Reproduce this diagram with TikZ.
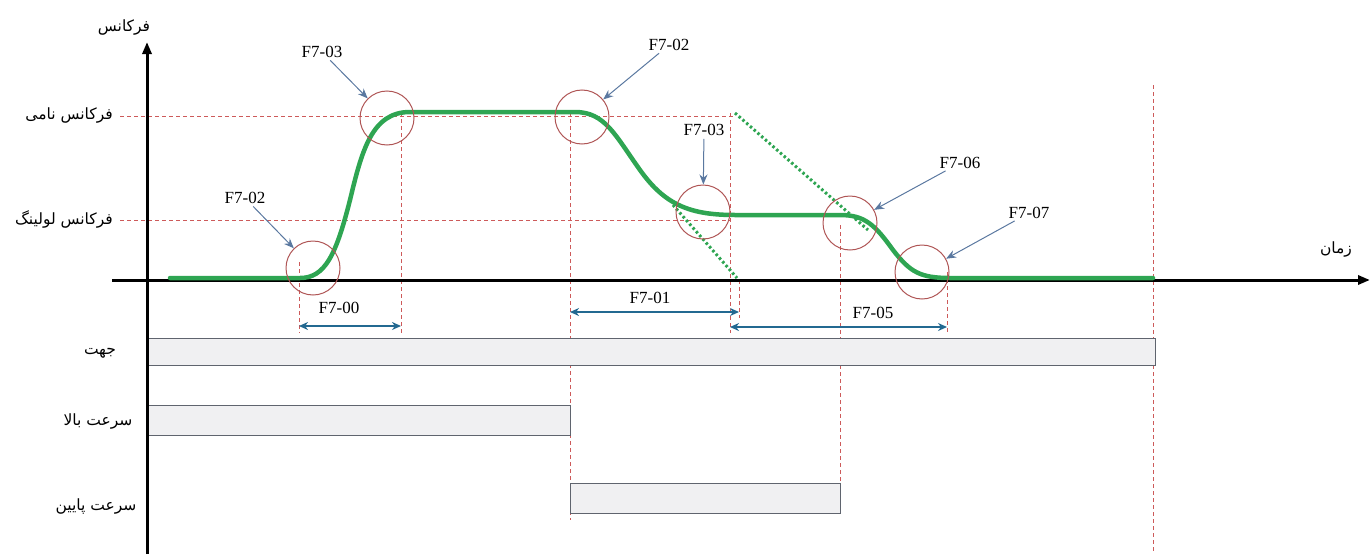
\documentclass[tikz,border=0pt]{standalone}
\usepackage{fontspec}
\setmainfont{Liberation Serif}
\newfontfamily\fa[Script=Arabic]{DejaVu Sans}
\TeXXeTstate=1
\usetikzlibrary{arrows.meta}
\definecolor{curvegreen}{RGB}{46,165,82}
\definecolor{guidered}{RGB}{205,90,90}
\definecolor{circred}{RGB}{175,85,85}
\definecolor{callblue}{RGB}{90,120,160}
\definecolor{dimblue}{RGB}{35,105,145}
\definecolor{boxfill}{RGB}{240,240,242}
\definecolor{boxline}{RGB}{95,100,110}
\begin{document}
\begin{tikzpicture}[x=1pt,y=-1pt,
  axis/.style={line width=3pt,black},
  guide/.style={guidered,line width=0.8pt,dash pattern=on 4pt off 3pt},
  curve/.style={curvegreen,line width=4.5pt,line cap=round},
  dotcurve/.style={curvegreen,line width=3pt,dash pattern=on 2.5pt off 2.5pt},
  circ/.style={circle,draw=circred,line width=1pt,minimum size=54pt,inner sep=0pt},
  lab/.style={font=\fontsize{17}{19}\selectfont,inner sep=1pt},
  falab/.style={font=\fa\fontsize{15.5}{18}\selectfont,inner sep=1pt},
  callout/.style={callblue,line width=1pt,-{Stealth[length=10pt,width=8pt]},shorten <=2pt},
  dim/.style={dimblue,line width=2pt,{Stealth[length=9pt,width=8pt]}-{Stealth[length=9pt,width=8pt]}},
  sigbox/.style={rectangle,draw=boxline,line width=1pt,fill=boxfill,inner sep=0pt}
]
\useasboundingbox (0,0) rectangle (1370,554);

% guide coordinates
\coordinate (gN0) at (120,116); \coordinate (gN1) at (735,116);
\coordinate (gL0) at (120,220); \coordinate (gL1) at (730,220);
\coordinate (v1a) at (299,262); \coordinate (v1b) at (299,333);
\coordinate (v2a) at (401,112); \coordinate (v2b) at (401,333);
\coordinate (v3a) at (570,112); \coordinate (v3b) at (570,520);
\coordinate (v4a) at (730,113); \coordinate (v4b) at (730,333);
\coordinate (v5a) at (739,280); \coordinate (v5b) at (739,318);
\coordinate (v6a) at (840,225); \coordinate (v6b) at (840,483);
\coordinate (v7a) at (947,272); \coordinate (v7b) at (947,333);
\coordinate (v8a) at (1153,85); \coordinate (v8b) at (1153,552);

\draw[guide] (gN0) -- (gN1);
\draw[guide] (gL0) -- (gL1);
\foreach \i in {1,...,8} \draw[guide] (v\i a) -- (v\i b);

% signal boxes
\node[sigbox,minimum width=1007pt,minimum height=27pt] (dir) at (651.5,351.5) {};
\node[sigbox,minimum width=422pt,minimum height=30pt] (up) at (359,420) {};
\node[sigbox,minimum width=270pt,minimum height=30pt] (down) at (705,498) {};

% axes
\coordinate (yb) at (147,554); \coordinate (yt) at (147,42);
\coordinate (xl) at (112,280); \coordinate (xr) at (1370,280);
\draw[axis,-{Triangle[length=12pt,width=9pt]}] (yb) -- (yt);
\draw[axis,-{Triangle[length=12pt,width=9pt]}] (xl) -- (xr);

% dotted linear ramps
\coordinate (d1a) at (735,113); \coordinate (d1b) at (868,230);
\coordinate (d2a) at (673,205); \coordinate (d2b) at (737,278);
\draw[dotcurve] (d1a) -- (d1b);
\draw[dotcurve] (d2a) -- (d2b);

% green curve
\coordinate (s0) at (170,278); \coordinate (s1) at (300,278);
\coordinate (s2) at (410,112); \coordinate (s3) at (575,112);
\coordinate (s4) at (735,215); \coordinate (s5) at (840,215);
\coordinate (s6) at (950,278); \coordinate (s7) at (1153,278);
\draw[curve] (s0) -- (s1)
  .. controls (325,278) and (336,255) .. (350,200)
  .. controls (362,150) and (372,112) .. (s2) -- (s3)
  .. controls (605,112) and (615,135) .. (640,170)
  .. controls (665,205) and (690,215) .. (s4) -- (s5)
  .. controls (865,215) and (875,225) .. (893,250)
  .. controls (910,272) and (920,278) .. (s6) -- (s7);

% circles
\node[circ] (c1) at (313,268) {};
\node[circ] (c2) at (387,118) {};
\node[circ] (c3) at (582,117) {};
\node[circ] (c4) at (703,212) {};
\node[circ] (c5) at (850,223) {};
\node[circ] (c6) at (922,272) {};

% callout labels
\node[lab] (t1) at (245,198) {F7-02};
\node[lab] (t2) at (322,52) {F7-03};
\node[lab] (t3) at (669,45) {F7-02};
\node[lab] (t4) at (704,130) {F7-03};
\node[lab] (t5) at (960,163) {F7-06};
\node[lab] (t6) at (1029,213) {F7-07};
\draw[callout] (t1) -- (c1);
\draw[callout] (t2) -- (c2);
\draw[callout] (t3) -- (c3);
\draw[callout] (t4) -- (c4);
\draw[callout] (t5) -- (c5);
\draw[callout] (t6) -- (c6);

% dimension arrows
\coordinate (a0l) at (299,326); \coordinate (a0r) at (401,326);
\coordinate (a1l) at (570,312); \coordinate (a1r) at (739,312);
\coordinate (a5l) at (730,327); \coordinate (a5r) at (947,327);
\draw[dim] (a0l) -- (a0r);
\draw[dim] (a1l) -- (a1r);
\draw[dim] (a5l) -- (a5r);
\node[lab] (n0) at (339,308) {F7-00};
\node[lab] (n1) at (650,298) {F7-01};
\node[lab] (n5) at (873,313) {F7-05};

% Persian labels
\node[falab] (freq) at (124,28) {\beginR فرکانس\endR};
\node[falab,anchor=east] (nom) at (114,116) {\beginR فرکانس نامی\endR};
\node[falab,anchor=east] (lev) at (114,219) {\beginR فرکانس لولینگ\endR};
\node[falab] (time) at (1336,250) {\beginR زمان\endR};
\node[falab] (ldir) at (100,353) {\beginR جهت\endR};
\node[falab] (lup) at (98,421) {\beginR سرعت بالا\endR};
\node[falab] (ldown) at (96,506) {\beginR سرعت پایین\endR};
\end{tikzpicture}
\end{document}
